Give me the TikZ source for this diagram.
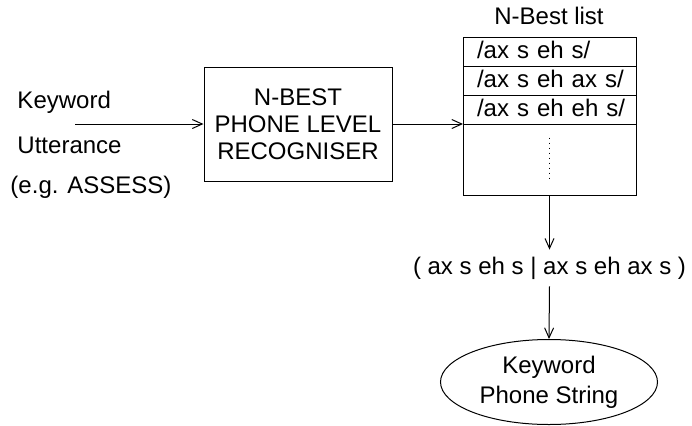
\documentclass[tikz,border=0pt]{standalone}
\usepackage{fontspec}
\setmainfont{Liberation Sans}
\usepackage{tikz}
\usetikzlibrary{shapes}
\usetikzlibrary{positioning}
\usetikzlibrary{arrows.meta}

\begin{document}
\begin{tikzpicture}[x=0.5pt,y=-0.5pt,
	font=\fontsize{12}{14}\selectfont,
	line width=0.5pt,
	>={Straight Barb[length=5pt,width=4.5pt]},
	label/.style={inner sep=0pt},
	recbox/.style={draw,rectangle,minimum width=94pt,minimum height=57pt,align=center,font=\fontsize{12}{13.5}\selectfont},
	row/.style={draw,rectangle,minimum width=86.5pt,minimum height=14.5pt,inner sep=0pt,outer sep=0pt,text height=9pt,text depth=2.5pt,text width=79.5pt,align=left,execute at begin node={\hspace*{3.5pt}}},
	oval/.style={draw,ellipse,minimum width=108.5pt,minimum height=42.5pt,inner sep=0pt,align=center,font=\fontsize{12}{15}\selectfont}]
\useasboundingbox (0,0) rectangle (692,425);

% input
\node [label,anchor=west] (kw) at (17,102) {Keyword};
\node [label,anchor=west] (utt) at (17,145) {Utterance};
\node [label,anchor=west] (eg) at (10,187) {(e.g. ASSESS)};
\coordinate (in) at (75,124);

% recogniser
\node [recbox] (rec) at (298,124) {N-BEST\\PHONE LEVEL\\RECOGNISER};

% n-best list
\node [label] (title) at (549,16) {N-Best list};
\node [row,anchor=north west] (r1) at (463,37) {/ax s eh s/};
\node [row,below=0pt of r1] (r2) {/ax s eh ax s/};
\node [row,below=0pt of r2] (r3) {/ax s eh eh s/};
\node [row,below=0pt of r3,minimum height=35.5pt] (rest) {};
\draw [dotted] ([yshift=11pt]rest.center) -- ([yshift=-11pt]rest.center);

% result
\node (alt) at (549.5,268) {( ax s eh s | ax s eh ax s )};
\node [oval] (ps) at (549,382) {Keyword\\Phone String};

\draw [->] (in) -- (rec.west);
\draw [->] (rec.east) -- (rest.north west);
\draw [->] (rest.south) -- (rest.south |- alt.north);
\draw [->] (alt.south) -- (ps.north);
\end{tikzpicture}
\end{document}
